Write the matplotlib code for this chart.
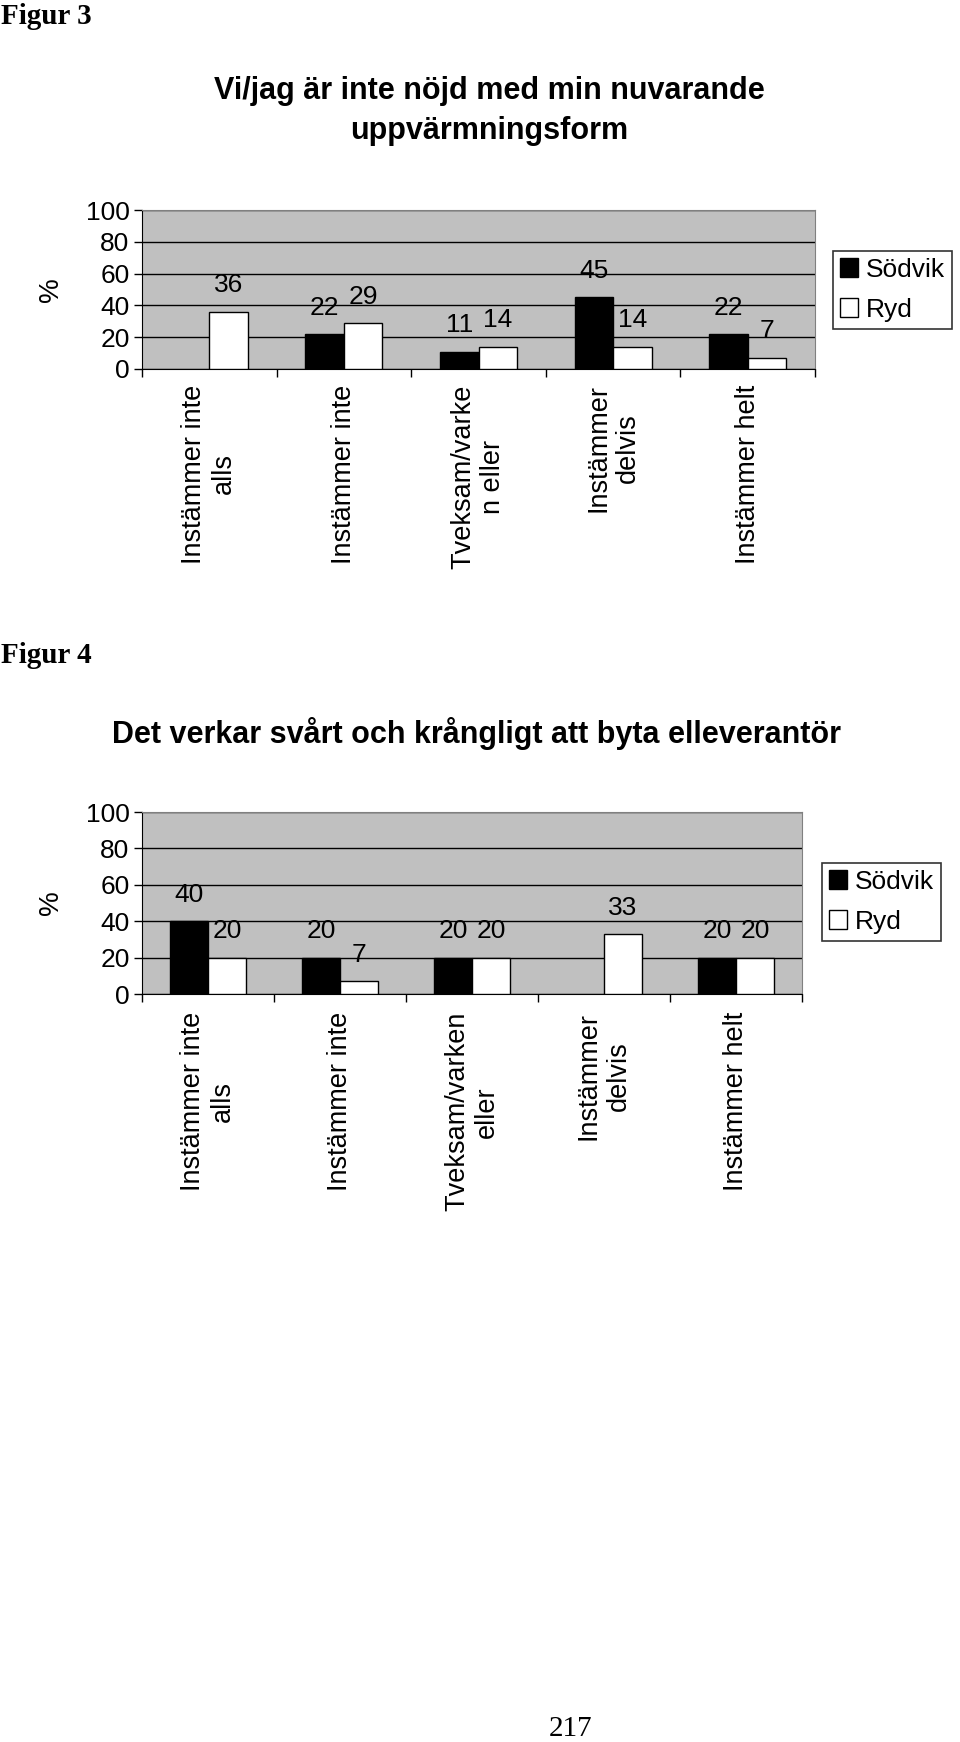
import numpy as np
import matplotlib
matplotlib.use("Agg")
import matplotlib.pyplot as plt
from matplotlib.patches import Patch
from matplotlib.ticker import FixedLocator, NullFormatter

plt.rcParams["font.family"] = ["Liberation Sans", "DejaVu Sans"]

# Figur 3
title3 = "Vi/jag är inte nöjd med min nuvarande\nuppvärmningsform"
cats3 = ["Instämmer inte\nalls", "Instämmer inte", "Tveksam/varke\nn eller",
         "Instämmer\ndelvis", "Instämmer helt"]
sodvik3 = [np.nan, 22, 11, 45, 22]
ryd3 = [36, 29, 14, 14, 7]

# Figur 4
title4 = "Det verkar svårt och krångligt att byta elleverantör"
cats4 = ["Instämmer inte\nalls", "Instämmer inte", "Tveksam/varken\neller",
         "Instämmer\ndelvis", "Instämmer helt"]
sodvik4 = [40, 20, 20, np.nan, 20]
ryd4 = [20, 7, 20, 33, 20]

series_names = ["Södvik", "Ryd"]
yticks = [0, 20, 40, 60, 80, 100]

W, H = 960, 1742
fig = plt.figure(figsize=(W / 100, H / 100), dpi=100)


def px(x0, y0, x1, y1):
    # pixel box -> figure fraction [left, bottom, width, height]
    return [x0 / W, 1 - y1 / H, (x1 - x0) / W, (y1 - y0) / H]


def draw_chart(rect, cats, s1, s2, labelpad, legend_xy):
    ax = fig.add_axes(rect)
    ax.set_facecolor("#c0c0c0")
    n = len(cats)
    x = np.arange(n) + 0.5
    w = 0.286
    b1 = ax.bar(x - w / 2, s1, w, color="black", edgecolor="black", lw=1, zorder=3)
    b2 = ax.bar(x + w / 2, s2, w, color="white", edgecolor="black", lw=1, zorder=3)
    for bars, vals in ((b1, s1), (b2, s2)):
        for rect_, v in zip(bars, vals):
            if np.isnan(v):
                continue
            ax.annotate(f"{v:g}", (rect_.get_x() + rect_.get_width() / 2, v),
                        xytext=(0, 19), textcoords="offset points",
                        ha="center", va="center", fontsize=19, zorder=4)
    ax.set_xlim(0, n)
    ax.set_ylim(0, 100)
    ax.set_yticks(yticks)
    ax.tick_params(axis="y", labelsize=19, length=6, width=1, direction="out", pad=3)
    ax.yaxis.grid(True, color="black", lw=1, zorder=1)
    ax.set_axisbelow(True)

    ax.set_xticks(x)
    ax.set_xticklabels(cats, rotation=90, fontsize=19.5, va="top", ha="center")
    ax.xaxis.set_minor_locator(FixedLocator(np.arange(n + 1)))
    ax.xaxis.set_minor_formatter(NullFormatter())
    ax.tick_params(axis="x", which="major", length=0, pad=labelpad)
    ax.tick_params(axis="x", which="minor", length=6, width=1)
    for lab in ax.get_xticklabels():
        lab.set_multialignment("center")

    for s in ("top", "right"):
        ax.spines[s].set_color("#808080")
    for s in ("left", "bottom"):
        ax.spines[s].set_color("black")

    ax.set_ylabel("%", fontsize=20)
    width_px = rect[2] * W
    ax.yaxis.set_label_coords((64 - 142) / width_px, 0.5)

    handles = [Patch(facecolor="black", edgecolor="black"),
               Patch(facecolor="white", edgecolor="black")]
    leg = fig.legend(handles, series_names, loc="upper left",
                     bbox_to_anchor=legend_xy, fontsize=19, frameon=True,
                     fancybox=False, edgecolor="black", handlelength=0.7,
                     handleheight=0.7, handletextpad=0.3, labelspacing=0.62,
                     borderpad=0.25, borderaxespad=0)
    leg.get_frame().set_linewidth(1.2)
    return ax


ax1 = draw_chart(px(142, 210, 815, 369), cats3, sodvik3, ryd3, 11,
                 (833 / W, 1 - 251 / H))
ax2 = draw_chart(px(142, 812, 802, 994), cats4, sodvik4, ryd4, 13,
                 (822 / W, 1 - 863 / H))

serif = ["Liberation Serif", "DejaVu Serif"]
fig.text(1 / W, 1 - 3 / H, "Figur 3", family=serif, fontweight="bold",
         fontsize=21, ha="left", va="top")
fig.text(489 / W, 1 - 111 / H, title3, fontweight="bold", fontsize=22,
         ha="center", va="center", linespacing=1.45)
fig.text(1 / W, 1 - 642 / H, "Figur 4", family=serif, fontweight="bold",
         fontsize=21, ha="left", va="top")
fig.text(476 / W, 1 - 734 / H, title4, fontweight="bold", fontsize=22,
         ha="center", va="center")
fig.text(571 / W, 1 - 1729 / H, "217", family=serif, fontsize=21,
         ha="center", va="center")

fig.savefig("out.png", dpi=100, facecolor="white")
